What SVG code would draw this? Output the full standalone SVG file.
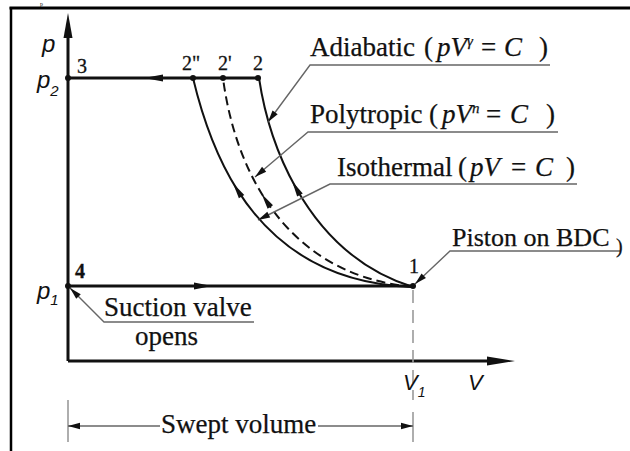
<svg xmlns="http://www.w3.org/2000/svg" width="630" height="451" viewBox="0 0 630 451">
<style>
.lbl{font-family:"Liberation Serif","Times New Roman",serif;font-size:27px;fill:#111;stroke:#111;stroke-width:0.25}
.it{font-style:italic}
.sup{font-size:15px;font-style:italic}
.math{font-family:"Liberation Sans",Arial,sans-serif;font-style:italic;fill:#111}
.num{font-family:"Liberation Serif","Times New Roman",serif;font-size:20px;fill:#111;stroke:#111;stroke-width:0.3}
.curve{fill:none;stroke:#111;stroke-width:2}
.thick{fill:none;stroke:#111;stroke-width:3}
.lead{fill:none;stroke:#666;stroke-width:1.4}
.tick{fill:none;stroke:#9a9a9a;stroke-width:1.6}
.dot{fill:#111}
</style>
<defs>
<marker id="ca" markerUnits="userSpaceOnUse" viewBox="-9 -4 18 8" markerWidth="18" markerHeight="8" refX="0" refY="0" orient="auto">
<path d="M8,0 L-8,-3.2 L-8,3.2 Z" fill="#111"/>
</marker>
<marker id="la" markerUnits="userSpaceOnUse" viewBox="-13 -4 14 8" markerWidth="14" markerHeight="8" refX="0" refY="0" orient="auto">
<path d="M0,0 L-12,-3.2 L-12,3.2 Z" fill="#111"/>
</marker>
</defs>
<rect width="630" height="451" fill="#fff"/>
<g id="frame">
<path d="M9.5,8 H630" stroke="#000" stroke-width="3" fill="none"/>
<path d="M11,7 V451" stroke="#000" stroke-width="2.5" fill="none"/>
<text x="40" y="6" style="font-family:'Liberation Serif',serif;font-size:6px;fill:#111">p</text>
</g>
<g id="axes">
<path d="M68,361 V30" class="thick" stroke-width="2.2"/>
<polygon points="68,13 63.5,38 72.5,38" fill="#111"/>
<path d="M68,361 H495" class="thick" stroke-width="2.6"/>
<polygon points="515,361 487,356.5 487,365.5" fill="#111"/>
<text x="42" y="52" class="math" font-size="24">p</text>
<text x="468" y="390" class="math" font-size="22">V</text>
</g>
<g id="connectors">
<path d="M68,78 H258" class="thick"/>
<polygon points="144,78 163,74.5 163,81.5" fill="#111"/>
<path d="M68,286 H413" class="thick"/>
<polygon points="212,286 194,282.5 194,289.5" fill="#111"/>
<path id="adiabatic-curve" d="M413,287 C360,270.5 321.6,233.2 296,188 C276.7,153.9 264.6,115.4 259,78" class="curve" marker-mid="url(#ca)"/>
<path id="polytropic-curve" d="M413,287 C342.6,280.4 295.8,245.7 265.9,200.4 C241.5,163.4 228.4,119.4 223,78" class="curve" stroke-dasharray="9 5" marker-mid="url(#ca)"/>
<path id="isothermal-curve" d="M413,287 C324.2,284 270.7,242.5 237.3,189.9 C215.1,154.8 201.8,114.8 193,78" class="curve" marker-mid="url(#ca)"/>
<path d="M550,65 H310 L268,122" class="lead" marker-end="url(#la)"/>
<path d="M558,132 H308 L255,177" class="lead" marker-end="url(#la)"/>
<path d="M577,184 H330 L258,220" class="lead" marker-end="url(#la)"/>
<path d="M620,251 H450 L415,284" class="lead" marker-end="url(#la)"/>
<path d="M254,322 H104 L70,288" class="lead" marker-end="url(#la)"/>
<path d="M413,290 V400" class="tick" stroke-dasharray="13 7"/>
<path d="M413,412 V442" class="tick"/>
<path d="M68,400 V442" class="tick"/>
<path d="M160,426 H68" class="lead" marker-end="url(#la)"/>
<path d="M318,426 H413" class="lead" marker-end="url(#la)"/>
</g>
<g id="state-3">
<circle cx="68" cy="78" r="3" class="dot"/>
<text x="77" y="73" class="num">3</text>
<text x="37" y="88" class="math" font-size="24">p<tspan font-size="15" dy="8">2</tspan></text>
</g>
<g id="state-2pp">
<circle cx="193" cy="78" r="3" class="dot"/>
<text x="182" y="70" class="num">2"</text>
</g>
<g id="state-2p">
<circle cx="223" cy="78" r="3" class="dot"/>
<text x="218" y="70" class="num">2'</text>
</g>
<g id="state-2">
<circle cx="258" cy="78" r="3" class="dot"/>
<text x="253" y="70" class="num">2</text>
</g>
<g id="state-4">
<circle cx="68" cy="286" r="3" class="dot"/>
<text x="75" y="278" class="num" font-weight="bold">4</text>
<text x="37" y="299" class="math" font-size="24">p<tspan font-size="15" dy="6">1</tspan></text>
</g>
<g id="state-1">
<circle cx="413" cy="286" r="3" class="dot"/>
<text x="409" y="273" class="num">1</text>
<text x="403" y="390" class="math" font-size="22">V<tspan font-size="14" dy="7">1</tspan></text>
</g>
<g id="label-adiabatic">
<text y="56" class="lbl"><tspan x="310">Adiabatic</tspan> <tspan x="424">(</tspan> <tspan x="437" class="it">pV</tspan><tspan class="sup" dy="-10">γ</tspan> <tspan x="481" dy="10">=</tspan> <tspan x="504" class="it">C</tspan> <tspan x="539">)</tspan></text>
</g>
<g id="label-polytropic">
<text y="123" class="lbl"><tspan x="310">Polytropic</tspan> <tspan x="429">(</tspan> <tspan x="442" class="it">pV</tspan><tspan class="sup" dy="-10">n</tspan> <tspan x="486" dy="10">=</tspan> <tspan x="510" class="it">C</tspan> <tspan x="546">)</tspan></text>
</g>
<g id="label-isothermal">
<text y="176" class="lbl"><tspan x="337">Isothermal</tspan> <tspan x="458">(</tspan> <tspan x="470" class="it">pV</tspan> <tspan x="511">=</tspan> <tspan x="535" class="it">C</tspan> <tspan x="566">)</tspan></text>
</g>
<g id="label-piston">
<text x="452" y="246" class="lbl" style="font-size:26px">Piston on BDC<tspan x="616" dy="7" style="font-size:20px">)</tspan></text>
</g>
<g id="label-suction">
<text x="104" y="316" class="lbl">Suction valve</text>
<text x="135" y="345" class="lbl">opens</text>
</g>
<g id="label-swept">
<text x="161" y="433" class="lbl">Swept volume</text>
</g>
</svg>
